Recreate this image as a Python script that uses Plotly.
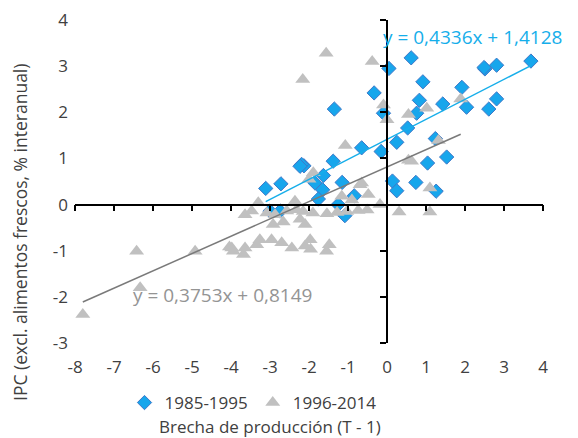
import plotly.graph_objects as go

# 1985-1995 (diamonds)
x_8595 = [3.69, 2.81, 2.51, 2.49, 0.62, 0.05, 0.92, -0.33, 1.92, 0.83, 1.43, 2.04, 2.81, 2.61,
          0.76, -0.09, 0.53, 0.25, -0.15, 1.24, 1.04, 1.53, 0.14, 0.25, 0.74, 1.26, -1.35, -0.65,
          -2.13, -1.38, -1.63, -1.85, -1.15, -1.65, -1.76, -0.84, -1.25, -1.08, -2.19, -2.23,
          -2.72, -3.11, -3.0, -2.74]
y_8595 = [3.11, 3.02, 2.94, 2.97, 3.18, 2.95, 2.66, 2.42, 2.54, 2.26, 2.18, 2.11, 2.29, 2.07,
          1.98, 1.98, 1.66, 1.35, 1.15, 1.43, 0.90, 1.03, 0.51, 0.30, 0.48, 0.29, 2.07, 1.23,
          0.84, 0.94, 0.63, 0.47, 0.48, 0.32, 0.12, 0.19, 0.00, -0.24, 0.87, 0.83,
          0.45, 0.35, -0.14, -0.14]

# 1996-2014 (triangles)
x_9614 = [-1.56, -2.16, -0.38, -0.09, 0.0, -1.07, 0.55, 1.02, 1.89, 1.32, 0.55, 0.63, 1.1,
          -0.18, 0.31, 1.1, -0.48, -0.69, -1.97, -1.48, -1.96, -1.55, -1.89, -0.65, -1.16,
          -2.15, -1.9, -1.54, -1.28, -1.03, -0.74, -0.51, -2.36, -3.3, -3.47, -3.64, -3.08,
          -2.87, -2.57, -2.32, -2.92, -2.66, -3.26, -2.96, -2.7, -2.44, -3.98, -3.64, -3.68,
          -2.1, -2.1, -2.23, -6.42, -4.92, -4.04, -3.94, -3.34, -6.33, -7.8, -2.0, -0.9]
y_9614 = [3.28, 2.71, 3.10, 2.16, 1.84, 1.28, 1.95, 2.09, 2.29, 1.39, 0.96, 0.94, 0.36,
          0.00, -0.16, -0.16, 0.22, 0.43, -0.76, -0.87, -0.97, -1.01, 0.69, 0.47, 0.18,
          -0.15, -0.18, -0.2, -0.17, -0.15, -0.13, -0.12, 0.07, 0.04, -0.14, -0.22, -0.18,
          -0.22, -0.14, -0.11, -0.43, -0.38, -0.76, -0.76, -0.83, -0.94, -0.94, -0.94, -1.08,
          -0.9, -0.43, -0.32, -1.01, -1.01, -0.92, -1.01, -0.87, -1.8, -2.38, 0.55, 0.1]

# trend lines (coefficients as printed)
slope_8595, icpt_8595 = 0.4336, 1.4128
slope_9614, icpt_9614 = 0.3753, 0.8149
eq_8595 = "y = 0,4336x + 1,4128"
eq_9614 = "y = 0,3753x + 0,8149"

x_ticks = list(range(-8, 5))
x_ticktext = [str(v) for v in x_ticks]
y_ticks = list(range(-3, 5))
y_ticktext = [str(v) for v in y_ticks]

BLUE = "#17a6ec"
BLUE_EDGE = "#3e78c8"
GRAY = "#c0c0c0"
FONT = "Open Sans"
TXT = "#404040"

fig = go.Figure()
fig.add_trace(go.Scatter(x=x_8595, y=y_8595, mode="markers", name="1985-1995",
                         marker=dict(symbol="diamond", size=11, color=BLUE,
                                     line=dict(color=BLUE_EDGE, width=1))))
fig.add_trace(go.Scatter(x=x_9614, y=y_9614, mode="markers", name="1996-2014",
                         marker=dict(symbol="triangle-up", size=13, color=GRAY,
                                     line=dict(width=0))))

bx = [min(x_8595), max(x_8595)]
gx = [min(x_9614), max(x_9614)]
fig.add_trace(go.Scatter(x=bx, y=[slope_8595 * v + icpt_8595 for v in bx], mode="lines",
                         line=dict(color="#16aeea", width=1.5), showlegend=False, hoverinfo="skip"))
fig.add_trace(go.Scatter(x=gx, y=[slope_9614 * v + icpt_9614 for v in gx], mode="lines",
                         line=dict(color="#7a7a7a", width=1.5), showlegend=False, hoverinfo="skip"))
# dummy trace for overlay axes
fig.add_trace(go.Scatter(x=[None], y=[None], xaxis="x2", yaxis="y2", showlegend=False,
                         hoverinfo="skip"))

# page body has an 8px margin: work in figure coordinates = page - 8
OFF = 8
W, H = 578 - OFF, 438 - OFF
L, R, T, B = 75 - OFF, 35, 20 - OFF, 95
plot_w = W - L - R
plot_h = H - T - B


def px(xp):  # page x pixel -> paper x
    return (xp - OFF - L) / plot_w


def py(yp):  # page y pixel -> paper y
    return (H - B - (yp - OFF)) / plot_h


fig.update_layout(
    width=W, height=H,
    margin=dict(l=L, r=R, t=T, b=B, autoexpand=False),
    paper_bgcolor="white", plot_bgcolor="white",
    font=dict(family=FONT, size=17, color=TXT),
    xaxis=dict(range=[-8, 4], tickvals=x_ticks, ticktext=x_ticktext, showgrid=False,
               zeroline=False, showline=False, ticks="", ticklabelstandoff=12,
               ticklabeloverflow="allow",
               automargin=False, tickfont=dict(size=17, color=TXT)),
    yaxis=dict(range=[-3, 4], tickvals=y_ticks, ticktext=y_ticktext, showgrid=False,
               zeroline=False, showline=False, ticks="", ticklabelstandoff=6,
               ticklabeloverflow="allow",
               automargin=False, tickfont=dict(size=17, color=TXT)),
    xaxis2=dict(range=[-8, 4], tickvals=x_ticks, overlaying="x", anchor="free",
                position=3 / 7, showline=True, linecolor="black", linewidth=1.5,
                ticks="outside", ticklen=6, tickcolor="black", tickwidth=1.5,
                showticklabels=False, showgrid=False, zeroline=False, automargin=False),
    yaxis2=dict(range=[-3, 4], tickvals=y_ticks, overlaying="y", anchor="free",
                position=8 / 12, side="left", showline=True, linecolor="black", linewidth=1.5,
                ticks="outside", ticklen=6, tickcolor="black", tickwidth=1.5,
                showticklabels=False, showgrid=False, zeroline=False, automargin=False),
    legend=dict(orientation="h", xref="paper", x=px(253), xanchor="center",
                yref="paper", y=py(403), yanchor="middle",
                font=dict(size=17, color=TXT), itemwidth=30, tracegroupgap=0,
                bgcolor="rgba(0,0,0,0)"),
    showlegend=True,
)

fig.add_annotation(text=eq_8595, xref="paper", yref="paper",
                   x=px(381), y=py(37), xanchor="left", yanchor="middle",
                   showarrow=False, font=dict(size=19, color="#16aeea"))
fig.add_annotation(text=eq_9614, xref="paper", yref="paper",
                   x=px(131), y=py(295), xanchor="left", yanchor="middle",
                   showarrow=False, font=dict(size=19, color="#949494"))
fig.add_annotation(text="Brecha de producción (T - 1)", xref="paper", yref="paper",
                   x=px(270), y=py(427), xanchor="center", yanchor="middle",
                   showarrow=False, font=dict(size=17, color=TXT))
fig.add_annotation(text="IPC (excl. alimentos frescos, % interanual)", xref="paper", yref="paper",
                   x=px(20), y=py(233), xanchor="center", yanchor="middle",
                   textangle=-90, showarrow=False, font=dict(size=17.5, color=TXT))

fig.write_html("out.html")
